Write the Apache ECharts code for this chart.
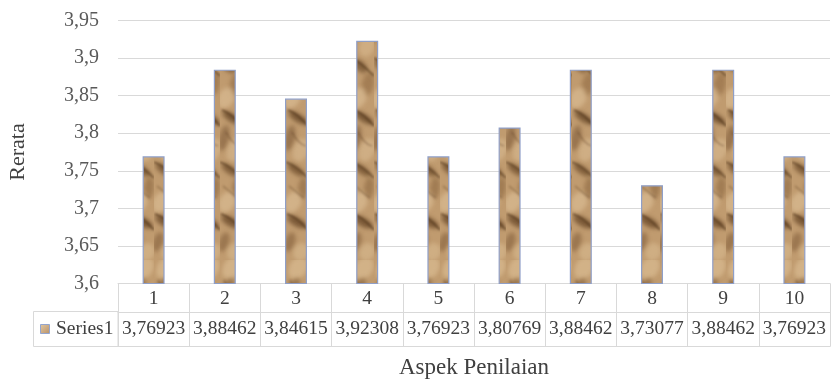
<!DOCTYPE html>
<html>
<head>
<meta charset="utf-8">
<script src="https://cdn.jsdelivr.net/npm/echarts@6/dist/echarts.min.js"></script>
<style>
  html, body { margin: 0; padding: 0; background: #ffffff; }
  #chart { width: 831px; height: 380px; }
</style>
</head>
<body>
<div id="chart"></div>
<script>
// Aspek penilaian (categories) and their mean scores
const categories = ['1', '2', '3', '4', '5', '6', '7', '8', '9', '10'];
const rerata = [3.76923, 3.88462, 3.84615, 3.92308, 3.76923, 3.80769, 3.88462, 3.73077, 3.88462, 3.76923];
const seriesName = 'Series1';
const yMin = 3.6, yMax = 3.95, yStep = 0.05;

const FONT = '"Liberation Serif", "DejaVu Serif", serif';
const GRID_GRAY = '#d9d9d9';
const TEXT = '#404040';

// Comma decimal formatting used in the axis and data table
const fmt = (v, d) => (d == null ? String(+(+v).toFixed(4)) : (+v).toFixed(d)).replace('.', ',');

// Crumpled-paper fill for the bars
function paperTexture() {
  const W = 22, H = 260;
  const c = document.createElement('canvas');
  c.width = W; c.height = H;
  const g = c.getContext('2d');
  g.fillStyle = '#c09b6f';
  g.fillRect(0, 0, W, H);

  // mottled tones: [cx, cy, rx, ry, rotation, color]
  const blobs = [
    [12, 8, 9, 12, 0.5, 'rgba(222,194,152,0.6)'],
    [5, 30, 5, 14, 0.6, 'rgba(120,86,50,0.55)'],
    [15, 46, 8, 11, 0.3, 'rgba(218,188,146,0.55)'],
    [8, 66, 9, 5, 0.7, 'rgba(105,72,40,0.65)'],
    [16, 84, 6, 12, 0.2, 'rgba(140,102,62,0.55)'],
    [6, 98, 8, 11, 0.5, 'rgba(222,194,154,0.6)'],
    [12, 118, 11, 4, 0.55, 'rgba(95,64,34,0.7)'],
    [4, 138, 5, 13, 0.2, 'rgba(120,86,52,0.55)'],
    [15, 150, 8, 12, 0.4, 'rgba(218,190,150,0.55)'],
    [10, 170, 10, 4, 0.6, 'rgba(100,68,36,0.65)'],
    [17, 188, 5, 11, 0.1, 'rgba(135,98,60,0.55)'],
    [7, 202, 8, 11, 0.5, 'rgba(222,194,154,0.6)'],
    [11, 222, 11, 4.5, 0.5, 'rgba(98,66,35,0.7)'],
    [4, 242, 5, 10, 0.3, 'rgba(125,90,55,0.55)'],
    [15, 252, 8, 9, 0.4, 'rgba(218,190,148,0.55)']
  ];
  g.filter = 'blur(2px)';
  blobs.forEach(([x, y, rx, ry, r, col]) => {
    g.fillStyle = col;
    g.beginPath();
    g.ellipse(x, y, rx, ry, r, 0, Math.PI * 2);
    g.fill();
  });

  // thin crease lines: [x0, y0, cx, cy, x1, y1, width, alpha]
  const creases = [
    [0, 58, 8, 62, 22, 76, 1.6, 0.7],
    [2, 110, 12, 114, 22, 126, 1.8, 0.75],
    [0, 162, 10, 166, 22, 178, 1.6, 0.7],
    [1, 214, 12, 218, 22, 230, 1.8, 0.75],
    [4, 20, 10, 36, 18, 40, 1.2, 0.45],
    [6, 132, 12, 144, 20, 146, 1.2, 0.45],
    [3, 186, 10, 192, 18, 198, 1.2, 0.4]
  ];
  g.filter = 'blur(0.9px)';
  creases.forEach(([x0, y0, cx, cy, x1, y1, w, a]) => {
    g.strokeStyle = 'rgba(80,52,26,' + a + ')';
    g.lineWidth = w;
    g.beginPath();
    g.moveTo(x0, y0);
    g.quadraticCurveTo(cx, cy, x1, y1);
    g.stroke();
  });
  g.filter = 'none';
  return c;
}

const chart = echarts.init(document.getElementById('chart'), null, { renderer: 'canvas' });

const tableLine = { show: true, lineStyle: { color: GRID_GRAY, width: 1 } };

const option = {
  backgroundColor: '#ffffff',
  animation: false,
  grid: { left: 118, right: 1, top: 20.5, bottom: 96.5, containLabel: false, outerBoundsMode: 'none' },
  xAxis: [
    {
      type: 'category',
      data: categories,
      position: 'bottom',
      boundaryGap: true,
      axisLine: tableLine,
      axisTick: { show: true, interval: 0, alignWithLabel: false, inside: false, length: 63, lineStyle: { color: GRID_GRAY } },
      axisLabel: { interval: 0, margin: 15, verticalAlign: 'middle', fontFamily: FONT, fontSize: 19.5, color: TEXT },
      name: 'Aspek Penilaian',
      nameLocation: 'middle',
      nameGap: 84,
      nameTextStyle: { fontFamily: FONT, fontSize: 23, color: TEXT, verticalAlign: 'middle' }
    },
    {
      type: 'category',
      data: rerata.map(v => fmt(v, 5)),
      position: 'bottom',
      offset: 28.5,
      axisLine: tableLine,
      axisTick: { show: false },
      axisLabel: { interval: 0, margin: 17, verticalAlign: 'middle', fontFamily: FONT, fontSize: 19.5, color: TEXT }
    },
    {
      type: 'category',
      data: categories,
      position: 'bottom',
      offset: 63,
      axisLine: tableLine,
      axisTick: { show: false },
      axisLabel: { show: false }
    }
  ],
  yAxis: {
    type: 'value',
    min: yMin,
    max: yMax,
    interval: yStep,
    axisLine: { show: false },
    axisTick: { show: false },
    splitLine: { show: true, lineStyle: { color: GRID_GRAY, width: 1 } },
    axisLabel: { margin: 19, fontFamily: FONT, fontSize: 20, color: '#595959', formatter: v => fmt(v) },
    name: 'Rerata',
    nameLocation: 'middle',
    nameGap: 100,
    nameRotate: 90,
    nameTextStyle: { fontFamily: FONT, fontSize: 22, color: TEXT, verticalAlign: 'middle' }
  },
  series: [{
    name: seriesName,
    type: 'bar',
    xAxisIndex: 0,
    data: rerata,
    barWidth: 22,
    itemStyle: {
      color: { image: paperTexture(), repeat: 'repeat' },
      borderColor: '#8f9fc8',
      borderWidth: 1.2
    }
  }],
  graphic: [
    {
      type: 'rect',
      shape: { x: 33.5, y: 311.5, width: 84.5, height: 35 },
      style: { fill: 'none', stroke: GRID_GRAY, lineWidth: 1 }
    },
    {
      type: 'rect',
      shape: { x: 40.5, y: 324.5, width: 9, height: 9 },
      style: {
        fill: new echarts.graphic.LinearGradient(0, 0, 1, 1, [
          { offset: 0, color: '#e2c9a4' },
          { offset: 1, color: '#b89066' }
        ]),
        stroke: '#93a5cf',
        lineWidth: 1
      }
    },
    {
      type: 'text',
      style: { text: seriesName, x: 56, y: 329, verticalAlign: 'middle', font: '19.5px ' + FONT, fill: TEXT }
    }
  ]
};

chart.setOption(option);
</script>
</body>
</html>
